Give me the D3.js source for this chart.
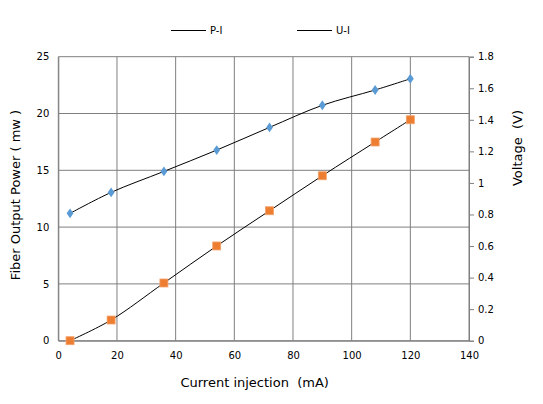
<!DOCTYPE html>
<html>
<head>
<meta charset="utf-8">
<script src="https://cdn.jsdelivr.net/npm/d3@7"></script>
<style>
  body { margin: 0; background: #fff; }
  text { font-family: "DejaVu Sans", sans-serif; fill: #000; white-space: pre; }
</style>
</head>
<body>
<div id="chart"></div>
<script>
// data
const current = [4, 18, 36, 54, 72, 90, 108, 120];
const power = [0, 1.82, 5.08, 8.34, 11.44, 14.52, 17.49, 19.45];
const voltage = [0.807, 0.94, 1.073, 1.208, 1.352, 1.492, 1.589, 1.66];
const xTicks = [0, 20, 40, 60, 80, 100, 120, 140];
const powerTicks = [0, 5, 10, 15, 20, 25];
const voltTicks = [0, 0.2, 0.4, 0.6, 0.8, 1, 1.2, 1.4, 1.6, 1.8];
const seriesNames = ["P-I", "U-I"];

const w = 543, h = 404;
const plotLeft = 58.3, plotRight = 469, plotTop = 56.7, plotBottom = 340.7;
const gridColor = "#7f7f7f";
const orange = "#ED7D31";
const blue = "#5B9BD5";

const svg = d3.select("#chart").append("svg")
  .attr("width", w)
  .attr("height", h);

const x = d3.scaleLinear().domain([0, 140]).range([plotLeft, plotRight]);
const yP = d3.scaleLinear().domain([0, 25]).range([plotBottom, plotTop]);
const yV = d3.scaleLinear().domain([0, 1.8]).range([plotBottom, plotTop]);

// grid
svg.append("g").selectAll("line").data(xTicks).join("line")
  .attr("x1", d => x(d)).attr("x2", d => x(d))
  .attr("y1", plotTop).attr("y2", plotBottom)
  .attr("stroke", gridColor).attr("stroke-width", 1);
svg.append("g").selectAll("line").data(powerTicks).join("line")
  .attr("x1", plotLeft).attr("x2", plotRight)
  .attr("y1", d => yP(d)).attr("y2", d => yP(d))
  .attr("stroke", gridColor).attr("stroke-width", 1);

// axes
const xAxis = svg.append("g")
  .attr("transform", `translate(0,${plotBottom})`)
  .call(d3.axisBottom(x).tickValues(xTicks).tickSize(0).tickPadding(11));
const leftAxis = svg.append("g")
  .attr("transform", `translate(${plotLeft},0)`)
  .call(d3.axisLeft(yP).tickValues(powerTicks).tickSize(0).tickPadding(9));
const rightAxis = svg.append("g")
  .attr("transform", `translate(${plotRight},0)`)
  .call(d3.axisRight(yV).tickValues(voltTicks).tickSize(5).tickPadding(4)
    .tickFormat(d3.format("~g")));

[xAxis, leftAxis, rightAxis].forEach(g => {
  g.select(".domain").attr("stroke", gridColor);
  g.selectAll(".tick line").attr("stroke", gridColor);
  g.selectAll(".tick text")
    .style("font-family", "DejaVu Sans, sans-serif")
    .style("font-size", "10px")
    .attr("fill", "#000");
});

// lines
const lineP = d3.line()
  .x((d, i) => x(current[i]))
  .y(d => yP(d))
  .curve(d3.curveCatmullRom.alpha(0.5));
const lineV = d3.line()
  .x((d, i) => x(current[i]))
  .y(d => yV(d))
  .curve(d3.curveCatmullRom.alpha(0.5));

svg.append("path").datum(power)
  .attr("d", lineP).attr("fill", "none")
  .attr("stroke", "#000").attr("stroke-width", 1);
svg.append("path").datum(voltage)
  .attr("d", lineV).attr("fill", "none")
  .attr("stroke", "#000").attr("stroke-width", 1);

// markers
svg.append("g").selectAll("rect").data(power).join("rect")
  .attr("x", (d, i) => x(current[i]) - 4)
  .attr("y", d => yP(d) - 4)
  .attr("width", 8).attr("height", 8)
  .attr("fill", orange)
  .attr("stroke", "#f5a26b").attr("stroke-width", 0.8);

const diamond = d3.symbol().type(d3.symbolDiamond).size(28);
svg.append("g").selectAll("path").data(voltage).join("path")
  .attr("d", diamond)
  .attr("transform", (d, i) => `translate(${x(current[i])},${yV(d)}) scale(1.2,1)`)
  .attr("fill", blue);

// legend
const legend = svg.append("g").selectAll("g").data(seriesNames).join("g")
  .attr("transform", (d, i) => `translate(${171 + i * 126},30.5)`);
legend.append("line")
  .attr("x1", 0).attr("x2", 35)
  .attr("stroke", "#000").attr("stroke-width", 1);
legend.append("text")
  .attr("x", 39).attr("dy", "0.35em")
  .style("font-size", "10px")
  .text(d => d);

// axis titles
svg.append("text")
  .attr("x", (plotLeft + plotRight) / 2 - 9).attr("y", 387)
  .attr("text-anchor", "middle")
  .style("font-size", "13px")
  .text("Current injection  (mA)");
svg.append("text")
  .attr("transform", "translate(20,195) rotate(-90)")
  .attr("text-anchor", "middle")
  .style("font-size", "13px")
  .text("Fiber Output Power ( mw )");
svg.append("text")
  .attr("transform", "translate(522,148) rotate(-90)")
  .attr("text-anchor", "middle")
  .style("font-size", "13px")
  .text("Voltage  (V)");
</script>
</body>
</html>
